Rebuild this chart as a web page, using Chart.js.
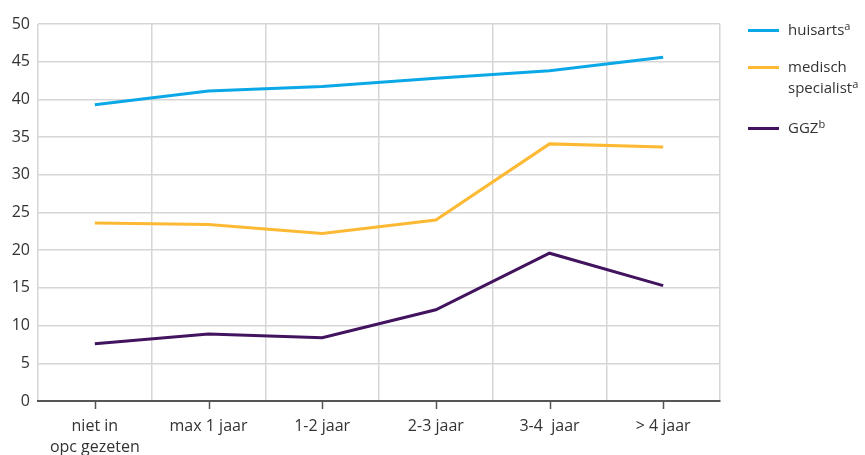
<!DOCTYPE html>
<html>
<head>
<meta charset="utf-8">
<script src="https://cdn.jsdelivr.net/npm/chart.js@4"></script>
<style>
    body { margin: 0; background: #fff; font-family: "Open Sans", sans-serif; }
    #wrap { position: relative; width: 865px; height: 455px; }
    #legend { position: absolute; left: 748px; top: 19px; color: #333; font-size: 15px; line-height: 21px; }
    .item { position: relative; padding-left: 40px; margin-bottom: 16px; }
    .item.last { margin-top: 19px; }
    .item i { position: absolute; left: 0; top: 10px; width: 31px; height: 3px; }
    sup { font-size: 11px; vertical-align: 5px; line-height: 0; }
</style>
</head>
<body>
<div id="wrap">
    <canvas id="chart" width="865" height="455"></canvas>
    <div id="legend">
        <div class="item"><i style="background:#0aa8e6"></i>huisarts<sup>a</sup></div>
        <div class="item"><i style="background:#fdb933"></i>medisch<br>specialist<sup>a</sup></div>
        <div class="item last"><i style="background:#42145f"></i>GGZ<sup>b</sup></div>
    </div>
</div>
<script>
// categorieën en waarden
const categories = [["niet in", "opc gezeten"], "max 1 jaar", "1-2 jaar", "2-3 jaar", "3-4  jaar", "> 4 jaar"];
const huisarts = [39.3, 41.1, 41.7, 42.8, 43.8, 45.6];
const specialist = [23.6, 23.4, 22.2, 24.0, 34.1, 33.7];
const ggz = [7.6, 8.9, 8.4, 12.1, 19.6, 15.3];
const yTicks = [0, 5, 10, 15, 20, 25, 30, 35, 40, 45, 50];

// kleine streepjes onder de x-as, midden onder elke categorie
const tickMarks = {
    id: "tickMarks",
    afterDraw(chart) {
        const x = chart.scales.x;
        const ctx = chart.ctx;
        ctx.save();
        ctx.strokeStyle = "#555";
        ctx.lineWidth = 1.5;
        categories.forEach((c, i) => {
            const px = Math.round(x.getPixelForValue(i)) + 0.5;
            ctx.beginPath();
            ctx.moveTo(px, x.top);
            ctx.lineTo(px, x.top + 8);
            ctx.stroke();
        });
        ctx.restore();
    }
};

const ctx = document.getElementById("chart").getContext("2d");
new Chart(ctx, {
    type: "line",
    data: {
        labels: categories,
        datasets: [
            { label: "huisarts", data: huisarts, borderColor: "#0aa8e6" },
            { label: "medisch specialist", data: specialist, borderColor: "#fdb933" },
            { label: "GGZ", data: ggz, borderColor: "#42145f" }
        ]
    },
    options: {
        responsive: false,
        animation: false,
        elements: {
            line: { borderWidth: 3, tension: 0 },
            point: { radius: 0 }
        },
        layout: { padding: { top: 24, right: 145, bottom: 0, left: 0 } },
        plugins: { legend: { display: false }, tooltip: { enabled: false } },
        scales: {
            x: {
                offset: true,
                grid: { offset: true, color: "#d6d6d6", lineWidth: 1.5, drawTicks: false },
                border: { color: "#555", width: 2 },
                ticks: { color: "#333", font: { family: "Open Sans", size: 16, lineHeight: 1.3 }, padding: 15, maxRotation: 0 },
                afterFit: s => { s.height = 54; }
            },
            y: {
                min: 0,
                max: 50,
                afterBuildTicks: s => { s.ticks = yTicks.map(v => ({ value: v })); },
                grid: { color: "#d6d6d6", lineWidth: 1.5, drawTicks: false },
                border: { display: false },
                ticks: { color: "#333", font: { family: "Open Sans", size: 16 }, padding: 8 },
                afterFit: s => { s.width = 38; }
            }
        }
    },
    plugins: [tickMarks]
});
</script>
</body>
</html>
